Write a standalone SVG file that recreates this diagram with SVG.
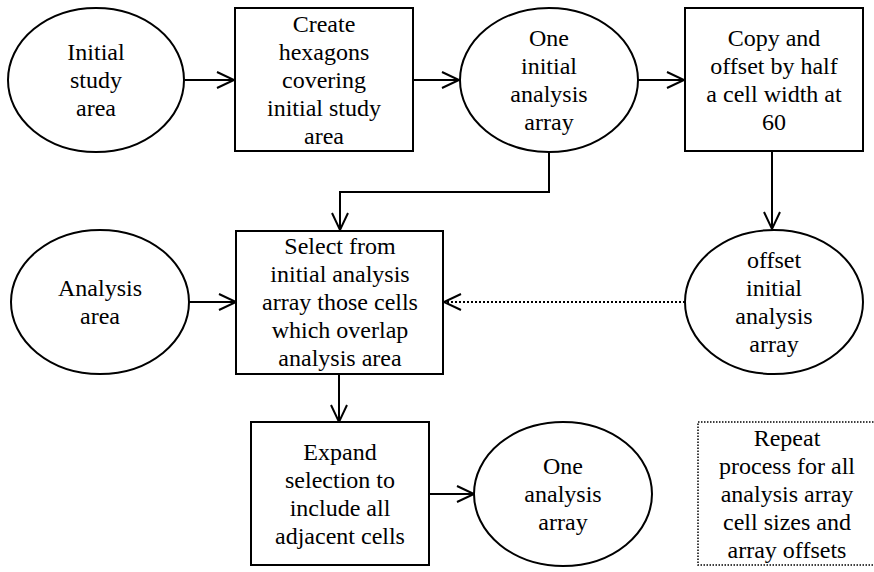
<svg xmlns="http://www.w3.org/2000/svg" width="874" height="572" viewBox="0 0 874 572">
<defs>
<style>
.n{fill:#fff;stroke:#000;stroke-width:2}
.d{fill:#fff;stroke:#000;stroke-width:1.5;stroke-dasharray:1.5 1.5}
.c{fill:none;stroke:#000;stroke-width:2}
.dc{fill:none;stroke:#000;stroke-width:2;stroke-dasharray:2 2}
</style>
<marker id="a" markerUnits="userSpaceOnUse" markerWidth="22" markerHeight="22" refX="18" refY="9" orient="auto" viewBox="0 0 22 18">
<path d="M1,1 L18,9 L1,17" fill="none" stroke="#000" stroke-width="2"/>
</marker>
</defs>
<rect width="874" height="572" fill="#fff"/>
<g id="connectors">
<line class="c" x1="185" y1="80" x2="234" y2="80" marker-end="url(#a)"/>
<line class="c" x1="413" y1="80" x2="459" y2="80" marker-end="url(#a)"/>
<line class="c" x1="638" y1="80" x2="684" y2="80" marker-end="url(#a)"/>
<polyline class="c" points="549,152 549,192 340,192 340,230" marker-end="url(#a)"/>
<line class="c" x1="772" y1="152" x2="772" y2="229" marker-end="url(#a)"/>
<line class="c" x1="189" y1="302" x2="236" y2="302" marker-end="url(#a)"/>
<line class="dc" x1="685" y1="302" x2="444" y2="302" marker-end="url(#a)"/>
<line class="c" x1="339" y1="374" x2="339" y2="422" marker-end="url(#a)"/>
<line class="c" x1="429" y1="494" x2="474" y2="494" marker-end="url(#a)"/>
</g>
<g id="initial-study-area">
<ellipse class="n" cx="96" cy="80" rx="88" ry="72"/>
<text x="96" y="60" font-family="Times New Roman" font-size="24" text-anchor="middle">Initial</text>
<text x="96" y="88" font-family="Times New Roman" font-size="24" text-anchor="middle">study</text>
<text x="96" y="116" font-family="Times New Roman" font-size="24" text-anchor="middle">area</text>
</g>
<g id="create-hexagons">
<rect class="n" x="235" y="8" width="178" height="143"/>
<text x="324" y="32" font-family="Times New Roman" font-size="24" text-anchor="middle">Create</text>
<text x="324" y="60" font-family="Times New Roman" font-size="24" text-anchor="middle">hexagons</text>
<text x="324" y="88" font-family="Times New Roman" font-size="24" text-anchor="middle">covering</text>
<text x="324" y="116" font-family="Times New Roman" font-size="24" text-anchor="middle">initial study</text>
<text x="324" y="144" font-family="Times New Roman" font-size="24" text-anchor="middle">area</text>
</g>
<g id="one-initial-analysis-array">
<ellipse class="n" cx="549" cy="80" rx="89" ry="72"/>
<text x="549" y="46" font-family="Times New Roman" font-size="24" text-anchor="middle">One</text>
<text x="549" y="74" font-family="Times New Roman" font-size="24" text-anchor="middle">initial</text>
<text x="549" y="102" font-family="Times New Roman" font-size="24" text-anchor="middle">analysis</text>
<text x="549" y="130" font-family="Times New Roman" font-size="24" text-anchor="middle">array</text>
</g>
<g id="copy-and-offset">
<rect class="n" x="685" y="8" width="178" height="143"/>
<text x="774" y="46" font-family="Times New Roman" font-size="24" text-anchor="middle">Copy and</text>
<text x="774" y="74" font-family="Times New Roman" font-size="24" text-anchor="middle">offset by half</text>
<text x="774" y="102" font-family="Times New Roman" font-size="24" text-anchor="middle">a cell width at</text>
<text x="774" y="130" font-family="Times New Roman" font-size="24" text-anchor="middle">60</text>
</g>
<g id="analysis-area">
<ellipse class="n" cx="100" cy="302" rx="89" ry="72"/>
<text x="100" y="296" font-family="Times New Roman" font-size="24" text-anchor="middle">Analysis</text>
<text x="100" y="324" font-family="Times New Roman" font-size="24" text-anchor="middle">area</text>
</g>
<g id="select-from">
<rect class="n" x="236" y="231" width="207" height="143"/>
<text x="340" y="254" font-family="Times New Roman" font-size="24" text-anchor="middle">Select from</text>
<text x="340" y="282" font-family="Times New Roman" font-size="24" text-anchor="middle">initial analysis</text>
<text x="340" y="310" font-family="Times New Roman" font-size="24" text-anchor="middle">array those cells</text>
<text x="340" y="338" font-family="Times New Roman" font-size="24" text-anchor="middle">which overlap</text>
<text x="340" y="366" font-family="Times New Roman" font-size="24" text-anchor="middle">analysis area</text>
</g>
<g id="offset-initial-analysis-array">
<ellipse class="n" cx="774" cy="302" rx="89" ry="72"/>
<text x="774" y="268" font-family="Times New Roman" font-size="24" text-anchor="middle">offset</text>
<text x="774" y="296" font-family="Times New Roman" font-size="24" text-anchor="middle">initial</text>
<text x="774" y="324" font-family="Times New Roman" font-size="24" text-anchor="middle">analysis</text>
<text x="774" y="352" font-family="Times New Roman" font-size="24" text-anchor="middle">array</text>
</g>
<g id="expand-selection">
<rect class="n" x="251" y="422" width="178" height="143"/>
<text x="340" y="460" font-family="Times New Roman" font-size="24" text-anchor="middle">Expand</text>
<text x="340" y="488" font-family="Times New Roman" font-size="24" text-anchor="middle">selection to</text>
<text x="340" y="516" font-family="Times New Roman" font-size="24" text-anchor="middle">include all</text>
<text x="340" y="544" font-family="Times New Roman" font-size="24" text-anchor="middle">adjacent cells</text>
</g>
<g id="one-analysis-array">
<ellipse class="n" cx="563" cy="494" rx="89" ry="72"/>
<text x="563" y="474" font-family="Times New Roman" font-size="24" text-anchor="middle">One</text>
<text x="563" y="502" font-family="Times New Roman" font-size="24" text-anchor="middle">analysis</text>
<text x="563" y="530" font-family="Times New Roman" font-size="24" text-anchor="middle">array</text>
</g>
<g id="repeat-note">
<rect class="d" x="698" y="422" width="178" height="143"/>
<text x="787" y="446" font-family="Times New Roman" font-size="24" text-anchor="middle">Repeat</text>
<text x="787" y="474" font-family="Times New Roman" font-size="24" text-anchor="middle">process for all</text>
<text x="787" y="502" font-family="Times New Roman" font-size="24" text-anchor="middle">analysis array</text>
<text x="787" y="530" font-family="Times New Roman" font-size="24" text-anchor="middle">cell sizes and</text>
<text x="787" y="558" font-family="Times New Roman" font-size="24" text-anchor="middle">array offsets</text>
</g>
</svg>
